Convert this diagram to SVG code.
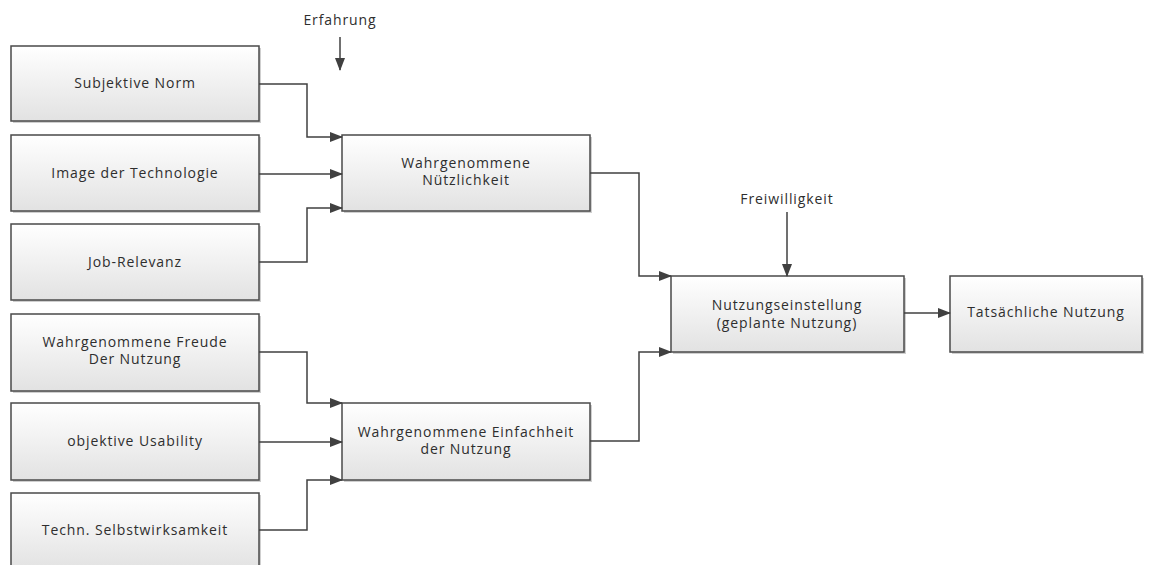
<svg xmlns="http://www.w3.org/2000/svg" width="1174" height="565" viewBox="0 0 1174 565">
<style>
.box{fill:url(#g);stroke:#4a4a4a;stroke-width:1.5}
.sh{fill:#cfcfcf}
.t{font-family:"Open Sans",sans-serif;font-size:14px;letter-spacing:0.9px;fill:#2e2e2e;text-anchor:middle}
.c{fill:none;stroke:#404040;stroke-width:1.5}
</style>
<defs>
<linearGradient id="g" x1="0" y1="0" x2="0" y2="1">
<stop offset="0" stop-color="#ffffff"/>
<stop offset="1" stop-color="#e2e2e2"/>
</linearGradient>
<marker id="a" markerWidth="13" markerHeight="10" refX="12" refY="5" orient="auto" markerUnits="userSpaceOnUse">
<path d="M0,0 L13,5 L0,10 Z" fill="#404040"/>
</marker>
</defs>
<rect width="1174" height="565" fill="#fff"/>
<g id="n1"><rect class="sh" x="13" y="48" width="248" height="75"/><rect class="box" x="11" y="46" width="248" height="75"/><text class="t" x="135" y="88">Subjektive Norm</text></g>
<g id="n2"><rect class="sh" x="13" y="137" width="248" height="76"/><rect class="box" x="11" y="135" width="248" height="76"/><text class="t" x="135" y="178">Image der Technologie</text></g>
<g id="n3"><rect class="sh" x="13" y="226" width="248" height="76"/><rect class="box" x="11" y="224" width="248" height="76"/><text class="t" x="135" y="267">Job-Relevanz</text></g>
<g id="n4"><rect class="sh" x="13" y="316" width="248" height="77"/><rect class="box" x="11" y="314" width="248" height="77"/><text class="t" x="135" y="347">Wahrgenommene Freude</text><text class="t" x="135" y="364">Der Nutzung</text></g>
<g id="n5"><rect class="sh" x="13" y="405" width="248" height="77"/><rect class="box" x="11" y="403" width="248" height="77"/><text class="t" x="135" y="446">objektive Usability</text></g>
<g id="n6"><rect class="sh" x="13" y="495" width="248" height="77"/><rect class="box" x="11" y="493" width="248" height="77"/><text class="t" x="135" y="535">Techn. Selbstwirksamkeit</text></g>
<g id="n7"><rect class="sh" x="344" y="137" width="248" height="76"/><rect class="box" x="342" y="135" width="248" height="76"/><text class="t" x="466" y="168">Wahrgenommene</text><text class="t" x="466" y="185">Nützlichkeit</text></g>
<g id="n8"><rect class="sh" x="344" y="405" width="248" height="77"/><rect class="box" x="342" y="403" width="248" height="77"/><text class="t" x="466" y="437">Wahrgenommene Einfachheit</text><text class="t" x="466" y="454">der Nutzung</text></g>
<g id="n9"><rect class="sh" x="673" y="278" width="233" height="76"/><rect class="box" x="671" y="276" width="233" height="76"/><text class="t" x="787" y="310">Nutzungseinstellung</text><text class="t" x="787" y="328">(geplante Nutzung)</text></g>
<g id="n10"><rect class="sh" x="952" y="278" width="192" height="76"/><rect class="box" x="950" y="276" width="192" height="76"/><text class="t" x="1046" y="317">Tatsächliche Nutzung</text></g>
<g id="l1"><text class="t" x="340" y="25" font-size="13">Erfahrung</text></g>
<g id="l2"><text class="t" x="787" y="204" font-size="13">Freiwilligkeit</text></g>
<g id="connectors">
<path class="c" marker-end="url(#a)" d="M340,37 V70"/>
<path class="c" marker-end="url(#a)" d="M787,212 V276"/>
<path class="c" marker-end="url(#a)" d="M259,84 H307 V137 H342"/>
<path class="c" marker-end="url(#a)" d="M259,174 H342"/>
<path class="c" marker-end="url(#a)" d="M259,262 H307 V208 H342"/>
<path class="c" marker-end="url(#a)" d="M259,352 H307 V403 H342"/>
<path class="c" marker-end="url(#a)" d="M259,442 H342"/>
<path class="c" marker-end="url(#a)" d="M259,530 H307 V480 H342"/>
<path class="c" marker-end="url(#a)" d="M590,173 H639 V276 H671"/>
<path class="c" marker-end="url(#a)" d="M590,441 H639 V352 H671"/>
<path class="c" marker-end="url(#a)" d="M904,313 H950"/>
</g>
</svg>
